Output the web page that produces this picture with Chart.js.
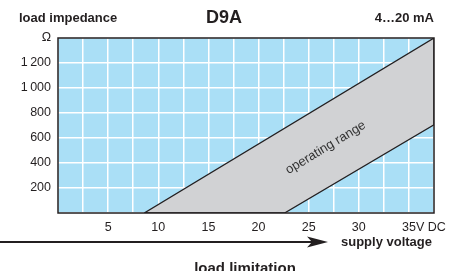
<!DOCTYPE html>
<html><head><meta charset="utf-8">
<script src="https://cdn.jsdelivr.net/npm/chart.js@4/dist/chart.umd.min.js"></script>
<style>html,body{margin:0;padding:0;background:#fff}#wrap{width:453px;height:271px;position:relative}</style>
</head><body><div id="wrap"><canvas id="c" width="453" height="271"></canvas></div>
<script>
// Operating range polygon (supply voltage V, load impedance Ω)
const rangeVoltage   = [8.6, 37.5, 37.5, 22.6, 8.6];
const rangeImpedance = [0, 1400, 706, 0, 0];
const xTickLabels = {5:'5',10:'10',15:'15',20:'20',25:'25',30:'30',35:'35'};
const yTickLabels = {200:'200',400:'400',600:'600',800:'800',1000:'1\u2009000',1200:'1\u2009200',1400:'\u03A9'};
const titleLeft = 'load impedance', titleMid = 'D9A', titleRight = '4\u202620 mA';
const rangeLabel = 'operating range';
const xAxisLabel = 'supply voltage', bottomLabel = 'load limitation';

const FONT = '"Liberation Sans", Arial, sans-serif';
const DARK = '#231f20';
const TICK = 12.5;
const TICK_PAD = 7;

const deco = {
  id:'deco',
  beforeDraw(chart){
    const {ctx, chartArea:a} = chart;
    ctx.save(); ctx.fillStyle = '#aadff6';
    ctx.fillRect(a.left, a.top, a.right-a.left, a.bottom-a.top); ctx.restore();
  },
  afterDatasetsDraw(chart){
    const {ctx, chartArea:a, scales:{x,y}} = chart;
    ctx.save();
    // plot frame
    ctx.strokeStyle = DARK; ctx.lineWidth = 1.5;
    ctx.strokeRect(a.left, a.top, a.right-a.left, a.bottom-a.top);
    // operating range label, rotated along the band
    const p0x = x.getPixelForValue(rangeVoltage[0]), p0y = y.getPixelForValue(rangeImpedance[0]);
    const p1x = x.getPixelForValue(rangeVoltage[1]), p1y = y.getPixelForValue(rangeImpedance[1]);
    const ang = Math.atan2(p1y-p0y, p1x-p0x);
    ctx.translate(x.getPixelForValue(26.7), y.getPixelForValue(522));
    ctx.rotate(ang);
    ctx.fillStyle = '#333'; ctx.font = '13px '+FONT;
    ctx.textAlign = 'center'; ctx.textBaseline = 'middle';
    ctx.fillText(rangeLabel, 0, 0);
    ctx.restore();
  },
  afterDraw(chart){
    const {ctx, chartArea:a, scales:{x}} = chart;
    ctx.save();
    ctx.fillStyle = DARK; ctx.textBaseline = 'alphabetic';
    ctx.font = 'bold 13px '+FONT; ctx.textAlign = 'left';
    ctx.fillText(titleLeft, 19, 22);
    ctx.textAlign = 'right'; ctx.fillText(titleRight, a.right, 22);
    ctx.font = 'bold 18px '+FONT; ctx.textAlign = 'center';
    ctx.fillText(titleMid, 224, 23);
    // "V DC" suffix after the 35 tick label, on the tick label line
    ctx.font = TICK+'px '+FONT;
    const w35 = ctx.measureText('35').width;
    ctx.textAlign = 'left'; ctx.textBaseline = 'middle';
    ctx.fillText('V DC', x.getPixelForValue(35) + w35/2, a.bottom + TICK_PAD + TICK*1.2/2);
    // arrow
    ctx.strokeStyle = DARK; ctx.lineWidth = 1.8;
    ctx.beginPath(); ctx.moveTo(0, 242); ctx.lineTo(312, 242); ctx.stroke();
    ctx.beginPath(); ctx.moveTo(328, 242); ctx.lineTo(307, 236.5); ctx.lineTo(312, 242); ctx.lineTo(307, 247.5); ctx.closePath(); ctx.fill();
    ctx.font = 'bold 13px '+FONT; ctx.textAlign = 'left'; ctx.textBaseline = 'middle';
    ctx.fillText(xAxisLabel, 341, 242);
    ctx.font = 'bold 15px '+FONT; ctx.textAlign = 'center'; ctx.textBaseline = 'alphabetic';
    ctx.fillText(bottomLabel, 245, 273);
    ctx.restore();
  }
};

new Chart(document.getElementById('c'), {
  type:'scatter',
  data:{datasets:[{
    data: rangeVoltage.map((v,i)=>({x:v, y:rangeImpedance[i]})),
    showLine:true, fill:'shape', backgroundColor:'#d1d2d4',
    borderColor:DARK, borderWidth:1.3, pointRadius:0, tension:0
  }]},
  plugins:[deco],
  options:{
    responsive:false, animation:false, devicePixelRatio:1,
    layout:{padding:{top:38, right:19, left:0, bottom:0}},
    plugins:{legend:{display:false}, tooltip:{enabled:false}},
    scales:{
      x:{type:'linear', min:0, max:37.5,
        afterFit(s){s.height = 58;},
        border:{display:false},
        grid:{color:'#ffffff', lineWidth:1.5, drawTicks:false},
        ticks:{stepSize:2.5, autoSkip:false, maxRotation:0, padding:TICK_PAD, color:DARK,
          font:{family:FONT, size:TICK},
          callback:v=>xTickLabels[v] || ''}
      },
      y:{min:0, max:1400,
        afterFit(s){s.width = 58;},
        border:{display:false},
        grid:{color:'#ffffff', lineWidth:1.5, drawTicks:false},
        ticks:{stepSize:200, autoSkip:false, padding:TICK_PAD, color:DARK,
          font:{family:FONT, size:TICK},
          callback:v=>yTickLabels[v] || ''}
      }
    }
  }
});
</script></body></html>
